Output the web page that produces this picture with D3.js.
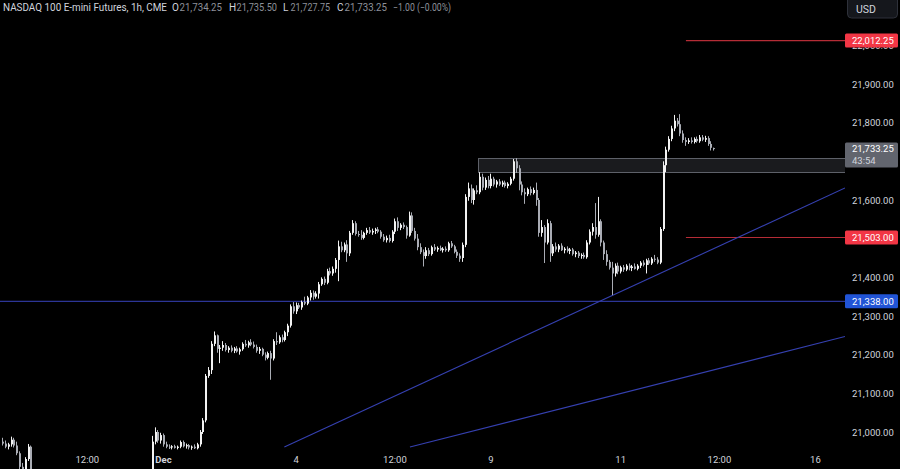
<!DOCTYPE html>
<html>
<head>
<meta charset="utf-8">
<script src="https://cdn.jsdelivr.net/npm/d3@7"></script>
<style>
  html, body { margin: 0; padding: 0; background: #000; }
  svg { display: block; }
  text { font-family: Roboto, "Noto Sans", sans-serif; }
</style>
</head>
<body>
<svg id="chart" width="900" height="469"></svg>
<script>
// ---------------- DATA ----------------
const titleText = "NASDAQ 100 E-mini Futures, 1h, CME";
const ohlcLabels = ["O", "H", "L", "C"];
const ohlcValues = ["21,734.25", "21,735.50", "21,727.75", "21,733.25"];
const changeText = "\u22121.00 (\u22120.00%)";
const currency = "USD";

// hourly candles [open, high, low, close], one per bar (index 0 = first bar)
const candles = [
  [20975,20985,20965,20970],[20970,20978,20958,20962],[20962,20972,20955,20968],[20968,20988,20962,20980],
  [20980,20985,20960,20965],[20965,20975,20940,20945],[20945,20950,20900,20910],[20910,20920,20885,20895],
  [20895,20935,20890,20930],[20930,20969,20925,20962],[20962,20965,20880,20890],[20890,20895,20860,20870],
  [20870,20885,20850,20880],[20880,20890,20855,20860],[20860,20870,20835,20845],[20845,20860,20830,20855],
  [20855,20870,20845,20865],[20865,20880,20850,20855],[20855,20862,20830,20840],[20840,20850,20825,20835],
  [20835,20848,20820,20842],[20842,20855,20835,20850],[20850,20858,20838,20845],[20845,20852,20832,20838],
  [20838,20850,20830,20848],[20848,20860,20842,20855],[20855,20866,20845,20850],[20850,20858,20840,20846],
  [20846,20862,20842,20858],[20858,20870,20850,20865],[20865,20878,20855,20860],[20860,20872,20852,20868],
  [20868,20880,20860,20874],[20874,20882,20862,20866],[20866,20875,20858,20870],[20870,20878,20864,20872],
  [20872,20880,20866,20875],[20875,20882,20868,20870],[20870,20878,20860,20864],[20864,20872,20855,20868],
  [20868,20880,20862,20876],[20876,20885,20868,20872],[20872,20880,20864,20878],[20878,20888,20870,20882],
  [20882,20890,20872,20876],[20876,20886,20868,20884],[20884,20895,20878,20890],[20890,20898,20880,20885],
  [20885,20893,20872,20878],[20878,20888,20870,20886],[20886,20896,20880,20892],[20892,20900,20884,20895],
  [20895,20902,20885,20898],[20898,20990,20895,20975],[20975,21012,20968,21000],[21000,21005,20972,20978],
  [20978,20998,20970,20992],[20992,20996,20962,20968],[20968,20975,20958,20962],[20962,20968,20956,20960],
  [20960,20966,20955,20963],[20963,20967,20957,20959],[20959,20965,20955,20962],[20962,20978,20958,20974],
  [20974,20978,20960,20963],[20963,20970,20957,20966],[20966,20969,20955,20960],[20960,20965,20954,20962],
  [20962,20968,20956,20958],[20958,20972,20955,20968],[20968,21005,20962,21000],[21000,21036,20995,21030],
  [21030,21150,21025,21145],[21145,21168,21140,21160],[21160,21235,21150,21228],[21228,21260,21222,21250],
  [21250,21252,21205,21215],[21215,21225,21178,21218],[21218,21235,21210,21225],[21225,21230,21208,21212],
  [21212,21222,21205,21218],[21218,21224,21206,21210],[21210,21220,21204,21216],[21216,21222,21205,21208],
  [21208,21218,21200,21214],[21214,21232,21210,21228],[21228,21238,21220,21224],[21224,21236,21218,21232],
  [21232,21240,21222,21226],[21226,21234,21216,21220],[21220,21226,21205,21210],[21210,21220,21202,21215],
  [21215,21218,21196,21200],[21200,21206,21185,21192],[21192,21208,21188,21204],[21204,21210,21135,21190],
  [21190,21240,21185,21235],[21235,21258,21225,21232],[21232,21250,21228,21245],[21245,21252,21232,21238],
  [21238,21262,21234,21258],[21258,21280,21248,21275],[21275,21330,21270,21325],[21325,21336,21306,21312],
  [21312,21335,21305,21328],[21328,21334,21318,21322],[21322,21340,21316,21336],[21336,21350,21328,21332],
  [21332,21352,21328,21348],[21348,21367,21340,21360],[21360,21366,21342,21350],[21350,21364,21345,21358],
  [21358,21388,21345,21382],[21382,21400,21378,21396],[21396,21402,21380,21386],[21386,21422,21382,21416],
  [21416,21425,21405,21410],[21410,21428,21404,21422],[21422,21450,21412,21445],[21445,21495,21390,21480],
  [21480,21492,21465,21470],[21470,21490,21465,21485],[21485,21496,21440,21462],[21462,21520,21455,21515],
  [21515,21548,21510,21540],[21540,21545,21508,21512],[21512,21520,21505,21510],[21510,21522,21497,21502],
  [21502,21518,21498,21515],[21515,21528,21510,21522],[21522,21530,21512,21516],[21516,21526,21510,21520],
  [21520,21528,21512,21524],[21524,21530,21514,21518],[21518,21522,21500,21505],[21505,21512,21492,21496],
  [21496,21508,21490,21502],[21502,21510,21490,21494],[21494,21522,21490,21518],[21518,21552,21512,21545],
  [21545,21555,21520,21528],[21528,21540,21522,21536],[21536,21542,21525,21530],[21530,21534,21500,21508],
  [21508,21570,21505,21560],[21560,21568,21515,21520],[21520,21528,21495,21500],[21500,21512,21470,21478],
  [21478,21488,21460,21465],[21465,21472,21428,21455],[21455,21478,21448,21470],[21470,21476,21455,21460],
  [21460,21482,21456,21478],[21478,21486,21468,21472],[21472,21480,21466,21476],[21476,21482,21468,21470],
  [21470,21478,21464,21474],[21474,21480,21466,21470],[21470,21492,21466,21488],[21488,21494,21476,21480],
  [21480,21484,21462,21466],[21466,21472,21450,21456],[21456,21462,21440,21448],[21450,21490,21440,21484],
  [21484,21615,21478,21608],[21608,21645,21598,21630],[21630,21640,21592,21600],[21600,21630,21588,21625],
  [21625,21638,21615,21620],[21620,21672,21615,21660],[21660,21668,21625,21632],[21632,21658,21626,21652],
  [21652,21662,21630,21636],[21636,21668,21630,21655],[21655,21660,21635,21640],[21640,21652,21632,21648],
  [21648,21654,21636,21640],[21640,21650,21634,21645],[21645,21650,21632,21636],[21636,21646,21630,21642],
  [21642,21660,21638,21655],[21655,21706,21650,21700],[21700,21708,21670,21682],[21682,21690,21625,21640],
  [21640,21648,21612,21620],[21620,21630,21590,21615],[21615,21632,21610,21628],[21628,21635,21612,21618],
  [21618,21632,21614,21626],[21626,21645,21585,21600],[21600,21605,21505,21515],[21515,21548,21505,21530],
  [21530,21535,21437,21490],[21490,21550,21485,21540],[21540,21546,21440,21462],[21462,21486,21455,21480],
  [21480,21490,21466,21472],[21472,21486,21465,21482],[21482,21488,21468,21470],[21470,21478,21462,21474],
  [21474,21480,21464,21468],[21468,21476,21460,21472],[21472,21476,21456,21460],[21460,21468,21452,21464],
  [21464,21468,21450,21455],[21455,21462,21448,21458],[21458,21464,21448,21452],[21452,21496,21448,21490],
  [21490,21524,21485,21518],[21518,21540,21508,21530],[21530,21592,21500,21510],[21510,21608,21505,21545],
  [21545,21550,21480,21490],[21490,21495,21445,21460],[21460,21470,21430,21440],[21440,21445,21420,21425],
  [21425,21440,21354,21410],[21410,21436,21402,21430],[21430,21438,21408,21415],[21415,21430,21410,21426],
  [21426,21432,21414,21420],[21420,21434,21416,21430],[21430,21436,21418,21424],[21424,21432,21416,21428],
  [21428,21436,21420,21422],[21422,21434,21418,21430],[21430,21442,21424,21438],[21438,21444,21428,21432],
  [21432,21448,21410,21444],[21444,21450,21432,21436],[21436,21452,21432,21448],[21448,21458,21440,21446],
  [21446,21452,21434,21438],[21438,21530,21434,21525],[21525,21700,21520,21690],[21690,21738,21672,21730],
  [21730,21765,21725,21758],[21758,21792,21752,21785],[21785,21820,21778,21805],[21805,21812,21790,21796],
  [21796,21822,21765,21772],[21772,21780,21748,21755],[21755,21762,21740,21750],[21750,21760,21745,21754],
  [21754,21762,21746,21750],[21750,21762,21746,21758],[21758,21764,21748,21752],[21752,21768,21748,21762],
  [21762,21768,21752,21756],[21756,21766,21750,21760],[21760,21765,21740,21745],[21745,21752,21728,21735],
  [21734.25,21735.5,21727.75,21733.25]
];

// x-axis tick bars (bar index) and labels
const xTickIndex = [30, 57, 104, 139, 173, 219, 254, 288];
const xTickLabels = ["12:00", "Dec", "4", "12:00", "9", "11", "12:00", "16"];
const xTickBold = [false, true, false, false, false, false, false, false];

// price axis ticks that are visible (others sit under the price tags)
const yTicks = [21000, 21100, 21200, 21300, 21400, 21600, 21800, 21900, 22000];

// drawings
const hLevelBlue = 21338;                 // full-width horizontal line
const redLevels = [22012.25, 21503];      // horizontal rays
const redLevelsStart = 242.3;             // bar index where the rays start
const zone = { start: 168.6, top: 21708, bottom: 21672 };
const trendLines = [
  { p1: [100, 20961], p2: [216.5, 21354] },
  { p1: [144.5, 20961], p2: [297.6, 21245] }
];
const lastPrice = 21733.25;
const countdown = "43:54";

// price axis tags
const priceTags = [
  { price: 22012.25, fill: "#f23645" },
  { price: 21503, fill: "#f23645" },
  { price: 21338, fill: "#2154d6" }
];

// ---------------- CHART ----------------
const W = 900, H = 469, plotR = 845;
const svg = d3.select("#chart");
svg.append("rect").attr("width", W).attr("height", H).attr("fill", "#000");

const x = d3.scaleLinear().domain([-0.75, 297.6]).range([0, 842]);
const y = d3.scaleLinear().domain([20904.3, 22117.2]).range([469, 0]);
const fmt = d3.format(",.2f");

svg.append("clipPath").attr("id", "plotclip")
  .append("rect").attr("x", 0).attr("y", 0).attr("width", plotR).attr("height", H);
const plot = svg.append("g").attr("clip-path", "url(#plotclip)");

// blue horizontal level
plot.append("line")
  .attr("x1", 0).attr("x2", plotR)
  .attr("y1", y(hLevelBlue)).attr("y2", y(hLevelBlue))
  .attr("stroke", "#2c3596").attr("stroke-width", 1.3);

// zone rectangle
plot.append("rect")
  .attr("x", Math.round(x(zone.start)) + 0.5).attr("y", Math.round(y(zone.top)) + 0.5)
  .attr("width", plotR - x(zone.start)).attr("height", Math.round(y(zone.bottom) - y(zone.top)))
  .attr("fill", "#1a1b1e").attr("stroke", "#5e6169").attr("stroke-width", 1);

// red horizontal rays
redLevels.forEach(p => {
  plot.append("line")
    .attr("x1", x(redLevelsStart)).attr("x2", plotR)
    .attr("y1", y(p)).attr("y2", y(p))
    .attr("stroke", "#b52c36").attr("stroke-width", 1.2);
});

// trend lines (extended right)
trendLines.forEach(t => {
  const slope = (t.p2[1] - t.p1[1]) / (t.p2[0] - t.p1[0]);
  const xEnd = x.invert(plotR);
  plot.append("line")
    .attr("x1", x(t.p1[0])).attr("y1", y(t.p1[1]))
    .attr("x2", plotR).attr("y2", y(t.p1[1] + slope * (xEnd - t.p1[0])))
    .attr("stroke", "#3540b0").attr("stroke-width", 1.1);
});

// candles
const upCol = "#f2f2f2", dnCol = "#a9acb4";
const cg = plot.append("g");
cg.selectAll("line.wick").data(candles).join("line")
  .attr("class", "wick")
  .attr("x1", (d, i) => Math.round(x(i)) + 0.5).attr("x2", (d, i) => Math.round(x(i)) + 0.5)
  .attr("y1", d => y(d[1])).attr("y2", d => y(d[2]))
  .attr("stroke", d => d[3] >= d[0] ? upCol : dnCol).attr("stroke-width", 1);
cg.selectAll("rect.body").data(candles).join("rect")
  .attr("class", "body")
  .attr("x", (d, i) => Math.round(x(i)))
  .attr("width", 2)
  .attr("y", d => y(Math.max(d[0], d[3])))
  .attr("height", d => Math.max(1, Math.abs(y(d[0]) - y(d[3]))))
  .attr("fill", d => d[3] >= d[0] ? upCol : dnCol);

// price axis
const yAxis = d3.axisRight(y).tickValues(yTicks).tickFormat(fmt).tickSize(0).tickPadding(0);
const ya = svg.append("g").attr("transform", "translate(852,0)").call(yAxis);
ya.select(".domain").remove();
ya.selectAll("text").attr("fill", "#d1d4dc").attr("font-size", "9.5px")
  .attr("font-family", "Roboto, sans-serif").attr("dy", "0.35em");

// time axis
const xAxis = d3.axisBottom(x).tickValues(xTickIndex)
  .tickFormat((d, i) => xTickLabels[i]).tickSize(0).tickPadding(0);
const xa = svg.append("g").attr("transform", "translate(0,460)").call(xAxis);
xa.select(".domain").remove();
xa.selectAll("text").attr("fill", "#d1d4dc").attr("font-size", "9.5px")
  .attr("font-family", "Roboto, sans-serif").attr("dy", "0.35em")
  .attr("font-weight", (d, i) => xTickBold[i] ? "bold" : "normal");

// price tags
priceTags.forEach(t => {
  const cy = y(t.price);
  svg.append("rect").attr("x", 845).attr("y", cy - 7).attr("width", 53).attr("height", 14)
    .attr("rx", 1.5).attr("fill", t.fill);
  svg.append("text").attr("x", 852).attr("y", cy).attr("dy", "0.35em")
    .attr("fill", "#ffffff").attr("font-size", "9.5px").text(fmt(t.price));
});

// last price tag with countdown
{
  const cy = y(lastPrice);
  svg.append("rect").attr("x", 845).attr("y", cy - 6).attr("width", 53).attr("height", 25)
    .attr("rx", 1.5).attr("fill", "#62656e");
  svg.append("text").attr("x", 852).attr("y", cy).attr("dy", "0.35em")
    .attr("fill", "#ffffff").attr("font-size", "9.5px").text(fmt(lastPrice));
  svg.append("text").attr("x", 852).attr("y", cy + 12).attr("dy", "0.35em")
    .attr("fill", "#d1d4dc").attr("font-size", "9.5px").text(countdown);
}

// currency button
svg.append("rect").attr("x", 847.5).attr("y", -4).attr("width", 50).attr("height", 22)
  .attr("rx", 4).attr("fill", "#15171c").attr("stroke", "#2e313a");
svg.append("text").attr("x", 856).attr("y", 9).attr("dy", "0.35em")
  .attr("fill", "#d1d4dc").attr("font-size", "10.5px").text(currency);

// header legend
const hdr = svg.append("g").attr("font-size", "10px");
hdr.append("text").attr("x", 3).attr("y", 7).attr("dy", "0.35em")
  .attr("fill", "#d1d4dc").attr("textLength", 164).attr("lengthAdjust", "spacingAndGlyphs")
  .text(titleText);
const labX = [172, 229, 283, 337];
const valEnd = [222, 277, 330, 387];
ohlcLabels.forEach((l, i) => {
  hdr.append("text").attr("x", labX[i]).attr("y", 7).attr("dy", "0.35em")
    .attr("fill", "#d1d4dc").text(l);
  const vx = labX[i] + 7.5;
  hdr.append("text").attr("x", vx).attr("y", 7).attr("dy", "0.35em")
    .attr("fill", "#8d9099").attr("textLength", valEnd[i] - vx).attr("lengthAdjust", "spacingAndGlyphs")
    .text(ohlcValues[i]);
});
hdr.append("text").attr("x", 393).attr("y", 7).attr("dy", "0.35em")
  .attr("fill", "#8d9099").attr("textLength", 58).attr("lengthAdjust", "spacingAndGlyphs")
  .text(changeText);
</script>
</body>
</html>
